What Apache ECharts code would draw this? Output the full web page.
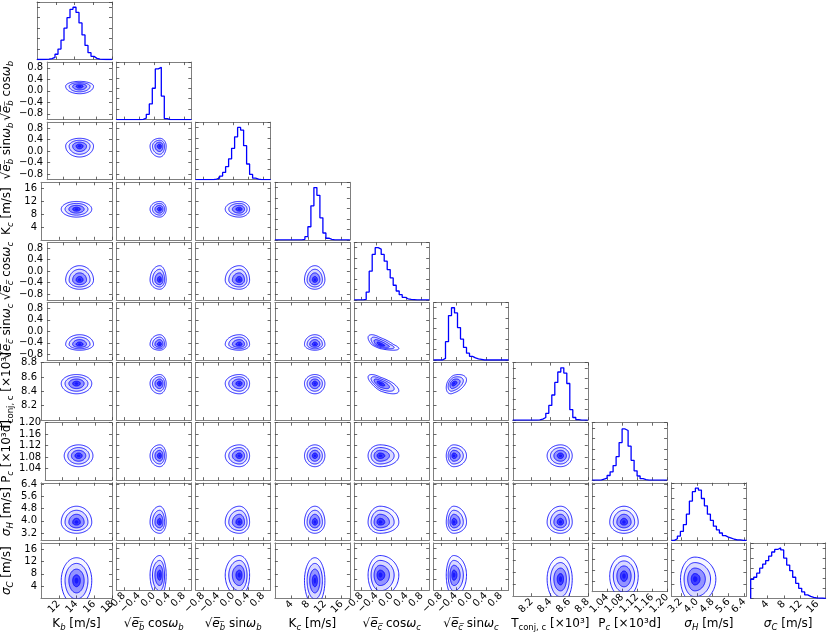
<!DOCTYPE html>
<html><head><meta charset="utf-8">
<script src="https://cdn.jsdelivr.net/npm/echarts@6/dist/echarts.min.js"></script>
<style>html,body{margin:0;padding:0;background:#fff}#c{width:830px;height:633px}</style>
</head><body><div id="c"></div>
<script>
// ---------------- data ----------------
const paramLabels = [
  '{r|K}{si|b}{r| [m/s]}',
  '{r|√}{i|e\u0305}{si|b\u0305}{r| cos}{i|ω}{si|b}',
  '{r|√}{i|e\u0305}{si|b\u0305}{r| sin}{i|ω}{si|b}',
  '{r|K}{si|c}{r| [m/s]}',
  '{r|√}{i|e\u0305}{si|c\u0305}{r| cos}{i|ω}{si|c}',
  '{r|√}{i|e\u0305}{si|c\u0305}{r| sin}{i|ω}{si|c}',
  '{r|T}{s|conj, c}{r| [×10³]}',
  '{r|P}{si|c}{r| [×10³d]}',
  '{i|σ}{si|H}{r| [m/s]}',
  '{i|σ}{si|C}{r| [m/s]}'
];
const axisMin = [10, -1, -1, 0, -1, -1, 8.0, 1.0, 2.72, 0];
const axisMax = [18, 1, 1, 18, 1, 1, 8.8, 1.2, 6.5, 18];
const ticksKb = [12, 14, 16, 18];
const ticksSqrtE = [-0.8, -0.4, 0, 0.4, 0.8];
const ticksKc = [4, 8, 12, 16];
const ticksT = [8.2, 8.4, 8.6, 8.8];
const ticksP = [1.04, 1.08, 1.12, 1.16, 1.20];
const ticksSigH = [3.2, 4.0, 4.8, 5.6, 6.4];
const ticksSigC = [4, 8, 12, 16];
const tickValues = [ticksKb, ticksSqrtE, ticksSqrtE, ticksKc, ticksSqrtE, ticksSqrtE, ticksT, ticksP, ticksSigH, ticksSigC];
const tickDecimals = [0, 1, 1, 0, 1, 1, 1, 2, 1, 0];

// 1D histograms (25 bins over each axis range, normalised to peak)
const histKb    = [0,0,0.002,0.006,0.016,0.04,0.1,0.2,0.37,0.6,0.8,0.96,1.0,0.9,0.7,0.47,0.27,0.13,0.06,0.022,0.008,0.002,0,0,0];
const histEbCos = [0,0,0,0,0,0,0,0,0.005,0.03,0.1,0.3,0.6,0.97,1.0,0.45,0.02,0,0,0,0,0,0,0,0];
const histEbSin = [0,0,0,0,0,0,0.01,0.03,0.07,0.14,0.25,0.4,0.6,0.82,1.0,0.95,0.65,0.3,0.1,0.03,0.01,0,0,0,0];
const histKc    = [0,0,0,0,0,0,0,0,0,0.01,0.06,0.25,0.65,1.0,0.85,0.42,0.13,0.03,0.01,0,0,0,0,0,0];
const histEcCos = [0,0,0,0.01,0.15,0.55,0.87,1.0,0.97,0.87,0.74,0.58,0.42,0.28,0.17,0.1,0.05,0.02,0.01,0.005,0,0,0,0,0];
const histEcSin = [0,0,0,0.03,0.35,0.85,1.0,0.9,0.62,0.4,0.24,0.13,0.07,0.04,0.02,0.01,0,0,0,0,0,0,0,0,0];
const histT     = [0,0,0,0,0,0,0,0,0.005,0.02,0.05,0.13,0.28,0.48,0.72,0.92,1.0,0.9,0.7,0.2,0.05,0.01,0,0,0];
const histP     = [0,0,0,0.02,0.04,0.09,0.16,0.28,0.45,0.72,0.98,0.95,0.65,0.38,0.18,0.08,0.03,0.01,0,0,0,0,0,0,0];
const histSigH  = [0,0.03,0.08,0.17,0.3,0.5,0.75,0.93,1.0,0.96,0.8,0.66,0.5,0.38,0.27,0.2,0.14,0.09,0.06,0.04,0.02,0.01,0.01,0,0];
const histSigC  = [0.38,0.42,0.5,0.6,0.68,0.75,0.84,0.92,0.97,1.0,0.96,0.8,0.66,0.55,0.42,0.3,0.2,0.13,0.07,0.04,0.02,0.01,0.005,0.005,0];
const hists = [histKb, histEbCos, histEbSin, histKc, histEcCos, histEcSin, histT, histP, histSigH, histSigC];

// 2D summaries: centre, lower / upper spread
const center  = [14.0, 0.16, 0.17, 9.6, -0.31, -0.46, 8.51, 1.085, 3.9, 5.8];
const sigLow  = [0.86, 0.13, 0.19, 1.25, 0.16, 0.10, 0.072, 0.019, 0.36, 4.0];
const sigHigh = [0.86, 0.085, 0.135, 1.2, 0.25, 0.17, 0.062, 0.019, 0.53, 3.7];
const corrPairs = [[5, 4, -0.7], [6, 4, -0.7], [6, 5, 0.4]]; // [row param, col param, rho]

// ---------------- layout / style ----------------
const L0 = 37, CW = 75, CP = 79.3, T0 = 2, RH = 57.5, RP = 60.1;
const FONT = 'DejaVu Sans';
const BORDER = '#7f7f7f';
const richStyles = {
  r:  {fontSize: 12, fontFamily: FONT, color: '#000', lineHeight: 16},
  i:  {fontSize: 12, fontFamily: FONT, fontStyle: 'italic', color: '#000', lineHeight: 16},
  s:  {fontSize: 8.5, fontFamily: FONT, color: '#000', verticalAlign: 'bottom', lineHeight: 12},
  si: {fontSize: 8.5, fontFamily: FONT, fontStyle: 'italic', color: '#000', verticalAlign: 'bottom', lineHeight: 12}
};
const fillLevels = [2, 1.5, 1, 0.5, 0.25];
const fillColors = ['rgba(0,0,255,0.03)', 'rgba(0,0,255,0.12)', 'rgba(0,0,255,0.32)', 'rgba(0,0,255,0.55)', 'rgba(0,0,255,0.6)'];
const lineLevels = [2, 1.5, 1, 0.5];

function fmt(p) {
  return function (v) {
    const s = Math.abs(v).toFixed(tickDecimals[p]);
    return (v < -1e-9 ? '\u2212' : '') + s;
  };
}
function corrOf(iy, ix) {
  for (const c of corrPairs) if (c[0] === iy && c[1] === ix) return c[2];
  return 0;
}
function ellipse(api, ix, iy, r, rho) {
  const pts = [];
  const n = 96, sq = Math.sqrt(1 - rho * rho);
  for (let k = 0; k <= n; k++) {
    const t = 2 * Math.PI * k / n;
    const u = Math.cos(t);
    const v = rho * Math.cos(t) + sq * Math.sin(t);
    const x = center[ix] + r * u * (u < 0 ? sigLow[ix] : sigHigh[ix]);
    const y = center[iy] + r * v * (v < 0 ? sigLow[iy] : sigHigh[iy]);
    pts.push(api.coord([x, y]));
  }
  return pts;
}
function makeRender(iy, ix) {
  const rho = corrOf(iy, ix);
  return function (params, api) {
    const children = [];
    fillLevels.forEach((r, k) => children.push({
      type: 'polygon', shape: {points: ellipse(api, ix, iy, r, rho)},
      style: {fill: fillColors[k], stroke: 'none'}
    }));
    lineLevels.forEach(r => children.push({
      type: 'polyline', shape: {points: ellipse(api, ix, iy, r, rho)},
      style: {fill: 'none', stroke: 'rgba(0,0,255,0.85)', lineWidth: 1}
    }));
    return {type: 'group', children};
  };
}
function histData(p) {
  const h = hists[p], n = h.length, w = (axisMax[p] - axisMin[p]) / n;
  const d = [[axisMin[p], 0]];
  for (let k = 0; k < n; k++) d.push([axisMin[p] + k * w, h[k]]);
  d.push([axisMax[p], h[n - 1]]);
  return d;
}
function lineAx() { return {show: true, onZero: false, lineStyle: {color: BORDER, width: 1}}; }
function tickAx(vals) {
  const t = {show: true, inside: true, length: 3, lineStyle: {color: '#444', width: 0.8}};
  if (vals) t.customValues = vals;
  return t;
}

const N = 10;
const grids = [], xAxes = [], yAxes = [], series = [];
for (let i = 0; i < N; i++) {
  for (let j = 0; j <= i; j++) {
    const g = grids.length;
    grids.push({left: L0 + j * CP, top: T0 + i * RP, width: CW, height: RH, containLabel: false});
    const diag = i === j, bottom = i === N - 1;
    xAxes.push({
      gridIndex: g, type: 'value', position: 'bottom', min: axisMin[j], max: axisMax[j],
      axisLine: lineAx(), axisTick: tickAx(tickValues[j]), splitLine: {show: false},
      axisLabel: {show: bottom, customValues: tickValues[j], rotate: 45, fontSize: 10, fontFamily: FONT,
                  color: '#000', margin: 4, formatter: fmt(j)},
      name: bottom ? paramLabels[j] : '', nameLocation: 'middle', nameGap: 17,
      nameTextStyle: {rich: richStyles}
    });
    xAxes.push({
      gridIndex: g, type: 'value', position: 'top', min: axisMin[j], max: axisMax[j],
      axisLine: lineAx(), axisTick: tickAx(tickValues[j]), axisLabel: {show: false}, splitLine: {show: false}
    });
    if (diag) {
      yAxes.push({gridIndex: g, type: 'value', position: 'left', min: 0, max: 1.1,
        axisLine: lineAx(), axisTick: tickAx(null), axisLabel: {show: false}, splitLine: {show: false}});
      yAxes.push({gridIndex: g, type: 'value', position: 'right', min: 0, max: 1.1,
        axisLine: lineAx(), axisTick: tickAx(null), axisLabel: {show: false}, splitLine: {show: false}});
      series.push({
        type: 'line', xAxisIndex: 2 * g, yAxisIndex: 2 * g, step: 'end', symbol: 'none',
        data: histData(j), lineStyle: {color: '#0000ff', width: 1.3}, silent: true, clip: true
      });
    } else {
      yAxes.push({
        gridIndex: g, type: 'value', position: 'left', min: axisMin[i], max: axisMax[i],
        axisLine: lineAx(), axisTick: tickAx(tickValues[i]), splitLine: {show: false},
        axisLabel: {show: j === 0, customValues: tickValues[i], fontSize: 10, fontFamily: FONT,
                    color: '#000', margin: 4, formatter: fmt(i)},
        name: j === 0 ? paramLabels[i] : '', nameLocation: 'middle', nameRotate: 90, nameGap: 26,
        nameTextStyle: {rich: richStyles}
      });
      yAxes.push({
        gridIndex: g, type: 'value', position: 'right', min: axisMin[i], max: axisMax[i],
        axisLine: lineAx(), axisTick: tickAx(tickValues[i]), axisLabel: {show: false}, splitLine: {show: false}
      });
      series.push({
        type: 'custom', xAxisIndex: 2 * g, yAxisIndex: 2 * g, clip: true, silent: true,
        data: [[center[j], center[i]]], renderItem: makeRender(i, j)
      });
    }
  }
}

const chart = echarts.init(document.getElementById('c'), null, {renderer: 'canvas'});
chart.setOption({
  animation: false, backgroundColor: '#fff',
  grid: grids, xAxis: xAxes, yAxis: yAxes, series: series
});
</script></body></html>
